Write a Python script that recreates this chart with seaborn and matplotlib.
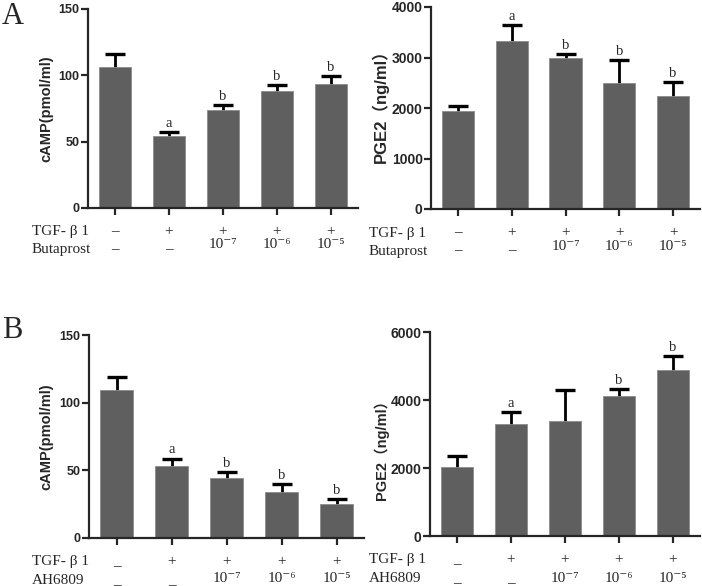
import numpy as np
import matplotlib
matplotlib.use("Agg")
import matplotlib.pyplot as plt
import seaborn as sns
from matplotlib.transforms import blended_transform_factory

# ===========================
# Data
# ===========================
groups = ["ctrl", "TGF", "1e-7", "1e-6", "1e-5"]

tgf_row_a = ["–", "+", "+", "+", "+"]
dose_row_a = ["–", "–", "10⁻⁷", "10⁻⁶", "10⁻⁵"]
tgf_row_b = ["_", "+", "+", "+", "+"]
dose_row_b = ["_", "_", "10⁻⁷", "10⁻⁶", "10⁻⁵"]

# A: Butaprost
camp_a = [106.6, 54.4, 73.5, 88.0, 93.1]
camp_a_err = [9.3, 2.8, 4.0, 4.6, 6.7]
camp_a_sig = ["", "a", "b", "b", "b"]

pge2_a = [1934, 3322, 3000, 2487, 2237]
pge2_a_err = [105, 329, 72, 467, 270]
pge2_a_sig = ["", "a", "b", "b", "b"]

# B: AH6809
camp_b = [109.0, 53.3, 44.2, 33.8, 25.2]
camp_b_err = [10.2, 5.4, 4.4, 6.2, 3.4]
camp_b_sig = ["", "a", "b", "b", "b"]

pge2_b = [2026, 3285, 3374, 4121, 4888]
pge2_b_err = [315, 364, 934, 207, 404]
pge2_b_sig = ["", "a", "", "b", "b"]

# ===========================
# Style
# ===========================
sns.set_style("ticks")
plt.rcParams["font.family"] = ["Liberation Sans", "Noto Sans CJK SC", "DejaVu Sans"]

W, H = 702, 586
fig = plt.figure(figsize=(W / 100, H / 100), dpi=100)

SERIF = ["Liberation Serif", "DejaVu Serif"]
BAR = "#5f5f5f"


def px_axes(left, right, y0, ytop):
    # pixel box -> figure fraction
    return fig.add_axes([left / W, 1 - y0 / H, (right - left) / W, (y0 - ytop) / H])


def panel(box, vals, errs, sig, ymax, yticks, ylabel, lab_fs, tick_fs,
          lab_x, lab_y, row1, row2, row_name, name_x, offs):
    left, right, y0, ytop = box
    ax = px_axes(left, right, y0, ytop)
    ax_h = y0 - ytop

    sns.barplot(x=groups, y=vals, color=BAR, saturation=1, width=0.6,
                edgecolor="#8c8c8c", linewidth=0.6, errorbar=None, ax=ax, zorder=2)
    ax.errorbar(range(len(vals)), vals, yerr=errs, fmt="none", ecolor="black",
                elinewidth=2, capsize=7.5, capthick=2.4, zorder=1)

    for i, s in enumerate(sig):
        if s:
            ax.annotate(s, (i, vals[i] + errs[i]), xytext=(0, 1.5),
                        textcoords="offset points", ha="center", va="bottom",
                        fontfamily=SERIF, fontsize=10.5)

    ax.set_xlim(-0.5, 4.5)
    ax.set_ylim(0, ymax)
    ax.set_yticks(yticks)
    ax.set_xticks(range(len(vals)))
    ax.set_xticklabels([])
    ax.set_xlabel("")
    sns.despine(ax=ax)
    for sp in ["left", "bottom"]:
        ax.spines[sp].set_linewidth(1.6)
    ax.tick_params(axis="both", direction="out", length=5, width=1.6, pad=1)
    for t in ax.get_yticklabels():
        t.set_fontweight("bold")
        t.set_fontsize(tick_fs)

    ax.set_ylabel(ylabel, fontsize=lab_fs, fontweight="bold")
    ax.yaxis.set_label_coords((lab_x - left) / (right - left), lab_y)

    # condition rows under the axis
    tr = blended_transform_factory(ax.transData, ax.transAxes)
    o1, o2, odose = offs
    for i in range(len(vals)):
        ax.text(i, -o1 / ax_h, row1[i], transform=tr, ha="center", va="center",
                fontfamily=SERIF, fontsize=11)
        d = row2[i]
        off = odose if d.startswith("10") else o2
        ax.text(i, -off / ax_h, d, transform=tr, ha="center", va="center",
                fontfamily=SERIF, fontsize=11)
    fig.text(name_x / W, 1 - (y0 + o1) / H, "TGF- β 1", ha="left", va="center",
             fontfamily=SERIF, fontsize=11)
    fig.text(name_x / W, 1 - (y0 + o2) / H, row_name, ha="left", va="center",
             fontfamily=SERIF, fontsize=11)
    return ax


# ===========================
# Panels
# ===========================
panel((88, 358, 208, 9), camp_a, camp_a_err, camp_a_sig, 150, [0, 50, 100, 150],
      "cAMP(pmol/ml)", 10.5, 9, 53, 0.5, tgf_row_a, dose_row_a, "Butaprost", 32,
      (24, 42, 37))
panel((431, 700, 209, 7), pge2_a, pge2_a_err, pge2_a_sig, 4000,
      [0, 1000, 2000, 3000, 4000], "PGE2（ng/ml）", 12, 10, 389, 0.53,
      tgf_row_a, dose_row_a, "Butaprost", 369, (24, 42, 37))
panel((89, 364, 538, 335), camp_b, camp_b_err, camp_b_sig, 150, [0, 50, 100, 150],
      "cAMP(pmol/ml)", 10.5, 9, 53, 0.5, tgf_row_b, dose_row_b, "AH6809", 32,
      (24, 43, 41))
panel((430, 700, 536, 332), pge2_b, pge2_b_err, pge2_b_sig, 6000,
      [0, 2000, 4000, 6000], "PGE2（ng/ml）", 10.5, 10, 389, 0.44,
      tgf_row_b, dose_row_b, "AH6809", 369, (24, 43, 43))

fig.text(2 / W, 1 - 16 / H, "A", fontfamily=SERIF, fontsize=22, ha="left", va="center")
fig.text(2 / W, 1 - 331 / H, "B", fontfamily=SERIF, fontsize=22, ha="left", va="center")

fig.savefig("out.png", dpi=100)
